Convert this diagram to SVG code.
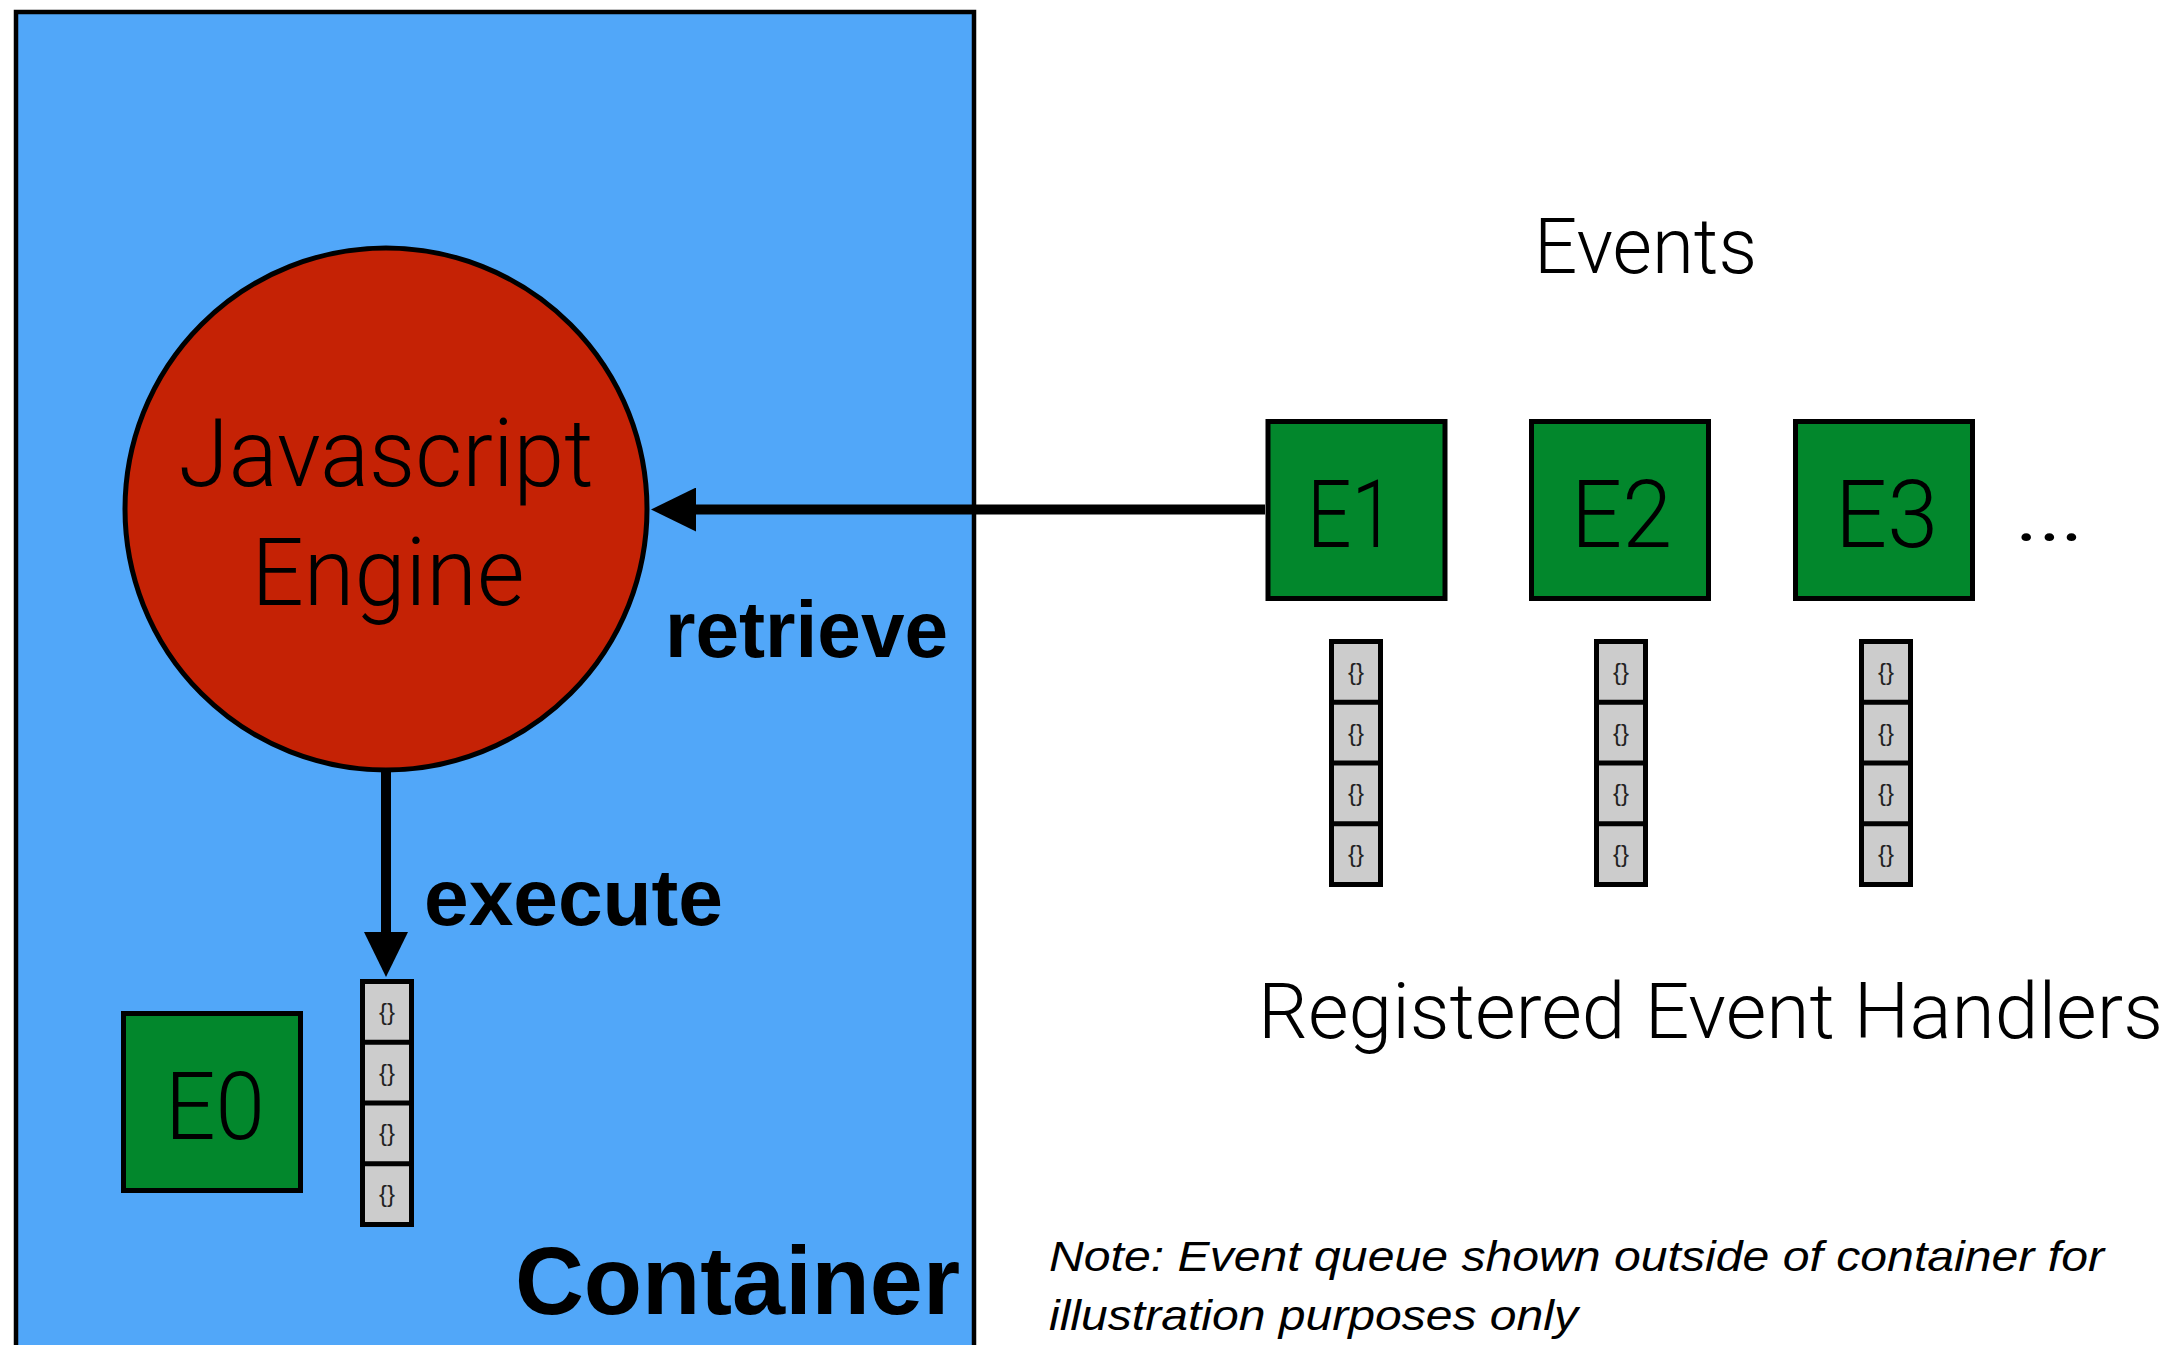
<svg xmlns="http://www.w3.org/2000/svg" xmlns:xlink="http://www.w3.org/1999/xlink" width="2178" height="1345" viewBox="0 0 2178 1345">
<style>
.light{font-family:Roboto,"Liberation Sans",sans-serif;font-weight:300;fill:#000}
.bold{font-family:"Liberation Sans",Arial,sans-serif;font-weight:bold;fill:#000}
.note{font-family:"Liberation Sans",Arial,sans-serif;font-style:italic;font-size:43px;fill:#000}
.box{fill:#02872C;stroke:#000;stroke-width:5}
.big{font-size:95px}
.mid{font-size:78px}
.lbl{font-size:79px}
.brace{font-family:"Liberation Sans",Arial,sans-serif;font-size:24px;fill:#222;text-anchor:middle}
.conn{stroke:#000;stroke-width:10;fill:none}
</style>
<defs>
<marker id="head" viewBox="0 0 45 44" refX="2" refY="22" markerWidth="45" markerHeight="44" markerUnits="userSpaceOnUse" orient="auto">
<path d="M0,0 L45,22 L0,44 z" fill="#000"/>
</marker>
<g id="stack">
<rect x="-24.5" y="2.5" width="49" height="243" fill="#CCCCCC" stroke="#000" stroke-width="5"/>
<path d="M-24.5,63.2 H24.5 M-24.5,124 H24.5 M-24.5,184.7 H24.5" stroke="#000" stroke-width="5"/>
<text class="brace" x="0" y="41">{}</text>
<text class="brace" x="0" y="102">{}</text>
<text class="brace" x="0" y="162">{}</text>
<text class="brace" x="0" y="223">{}</text>
</g>
</defs>
<rect width="2178" height="1345" fill="#FFFFFF"/>
<g id="container">
<rect x="16" y="12" width="958" height="1350" fill="#51A7F9" stroke="#000" stroke-width="4.5"/>
<text class="bold" x="515" y="1314" font-size="97" textLength="445" lengthAdjust="spacingAndGlyphs">Container</text>
</g>
<g id="engine">
<circle cx="386" cy="509" r="261" fill="#C52205" stroke="#000" stroke-width="5"/>
<text class="light big" x="386" y="486" text-anchor="middle" textLength="415" lengthAdjust="spacingAndGlyphs">Javascript</text>
<text class="light big" x="388" y="605" text-anchor="middle" textLength="273" lengthAdjust="spacingAndGlyphs">Engine</text>
</g>
<g id="connectors">
<path class="conn" d="M1265,509.5 H694" marker-end="url(#head)"/>
<path class="conn" d="M386,770 V934" marker-end="url(#head)"/>
<text class="bold lbl" x="665" y="657" textLength="283" lengthAdjust="spacingAndGlyphs">retrieve</text>
<text class="bold lbl" x="424" y="925" textLength="299" lengthAdjust="spacingAndGlyphs">execute</text>
</g>
<g id="e0">
<rect class="box" x="123.5" y="1013.5" width="177" height="177"/>
<text class="light big" x="215" y="1139" text-anchor="middle" textLength="100" lengthAdjust="spacingAndGlyphs">E0</text>
</g>
<g id="handlers-e0" transform="translate(387,979)"><use xlink:href="#stack" href="#stack"/></g>
<g id="events-title">
<text class="light mid" x="1645.5" y="273" text-anchor="middle" textLength="223" lengthAdjust="spacingAndGlyphs">Events</text>
</g>
<g id="e1">
<rect class="box" x="1268" y="421.5" width="177" height="177"/>
<text class="light big" x="1351" y="547" text-anchor="middle" textLength="88" lengthAdjust="spacingAndGlyphs">E1</text>
</g>
<g id="e2">
<rect class="box" x="1531.5" y="421.5" width="177" height="177"/>
<text class="light big" x="1621.5" y="547" text-anchor="middle" textLength="101" lengthAdjust="spacingAndGlyphs">E2</text>
</g>
<g id="e3">
<rect class="box" x="1795.5" y="421.5" width="177" height="177"/>
<text class="light big" x="1886.5" y="547" text-anchor="middle" textLength="103" lengthAdjust="spacingAndGlyphs">E3</text>
</g>
<g id="more">
<text class="light big" x="2012" y="541" textLength="74" lengthAdjust="spacingAndGlyphs" font-weight="400">…</text>
</g>
<g id="handlers-e1" transform="translate(1356,639)"><use xlink:href="#stack" href="#stack"/></g>
<g id="handlers-e2" transform="translate(1621,639)"><use xlink:href="#stack" href="#stack"/></g>
<g id="handlers-e3" transform="translate(1886,639)"><use xlink:href="#stack" href="#stack"/></g>
<g id="handlers-title">
<text class="light mid" x="1710.5" y="1038" text-anchor="middle" textLength="905" lengthAdjust="spacingAndGlyphs">Registered Event Handlers</text>
</g>
<g id="note">
<text class="note" x="1049" y="1271" textLength="1055" lengthAdjust="spacingAndGlyphs">Note: Event queue shown outside of container for</text>
<text class="note" x="1049" y="1330" textLength="529" lengthAdjust="spacingAndGlyphs">illustration purposes only</text>
</g>
</svg>
